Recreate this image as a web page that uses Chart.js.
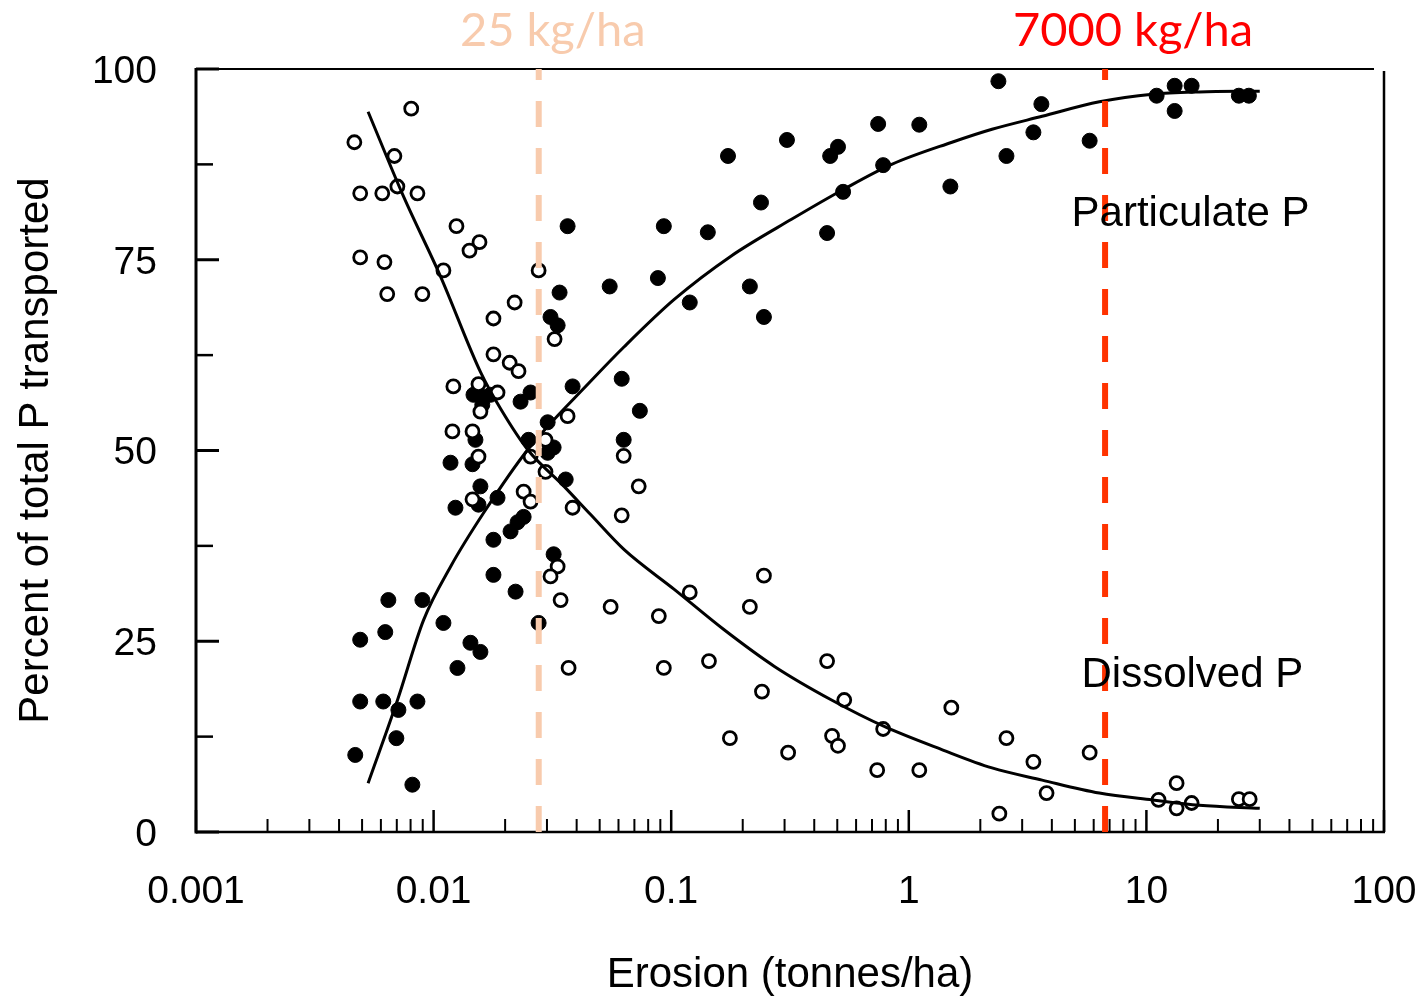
<!DOCTYPE html>
<html>
<head>
<meta charset="utf-8">
<script src="https://cdn.jsdelivr.net/npm/chart.js@4/dist/chart.umd.min.js"></script>
<style>
html,body{margin:0;padding:0;background:#fff;}
#wrap{width:1420px;height:1001px;position:relative;}
</style>
</head>
<body>
<div id="wrap"><canvas id="c" width="1420" height="1001"></canvas></div>
<script>
// ---- Axis ticks ----
const xTickValues = [0.001, 0.01, 0.1, 1, 10, 100];
const xTickLabels = ['0.001', '0.01', '0.1', '1', '10', '100'];
const yTickValues = [0, 25, 50, 75, 100];
const yMinorTickValues = [12.5, 37.5, 62.5, 87.5];

// ---- Dissolved P (open circles) ----
const dissolvedX = [0.00805, 0.00464, 0.00684, 0.00704, 0.00491, 0.00608, 0.00855, 0.01248, 0.0156, 0.01416,
  0.011, 0.02767, 0.00491, 0.00621, 0.00638, 0.00897, 0.02193, 0.01786, 0.0323, 0.01786,
  0.0209, 0.02277, 0.01211, 0.01545, 0.01858, 0.012, 0.01458, 0.01545, 0.01574, 0.02559,
  0.02958, 0.03664, 0.02958, 0.01458, 0.02393, 0.02559, 0.03846, 0.03327, 0.03105, 0.03424,
  0.037, 0.0631, 0.073, 0.0619, 0.2456, 0.1197, 0.0556, 0.0887, 0.2143, 0.0931,
  0.1442, 0.241, 0.453, 0.535, 0.1766, 0.3105, 0.4753, 0.5035, 0.78, 0.736,
  1.107, 1.51, 2.576, 3.345, 2.405, 3.8, 5.77, 13.4, 11.25, 13.4,
  15.5, 24.5, 27.2];
const dissolvedY = [94.8, 90.4, 88.6, 84.6, 83.7, 83.7, 83.7, 79.4, 77.3, 76.2,
  73.6, 73.6, 75.3, 74.7, 70.5, 70.5, 69.4, 67.3, 64.6, 62.6,
  61.5, 60.4, 58.4, 58.7, 57.6, 52.5, 52.5, 49.2, 55.1, 49.2,
  51.4, 54.5, 47.2, 43.6, 44.6, 43.3, 42.5, 34.8, 33.5, 30.4,
  21.5, 49.3, 45.3, 41.5, 33.6, 31.4, 29.5, 28.3, 29.5, 21.5,
  22.4, 18.4, 22.4, 17.3, 12.3, 10.4, 12.6, 11.3, 13.5, 8.1,
  8.1, 16.3, 12.3, 9.2, 2.4, 5.1, 10.4, 6.4, 4.2, 3.1,
  3.8, 4.3, 4.3];

// ---- Particulate P (filled circles) ----
const particulateX = [0.03664, 0.0339, 0.03105, 0.03327, 0.01472, 0.01622, 0.01735, 0.01603, 0.02323, 0.02559,
  0.03846, 0.0302, 0.0251, 0.032, 0.0302, 0.015, 0.01178, 0.01458, 0.03597, 0.01574,
  0.01858, 0.01236, 0.01545, 0.01786, 0.02108, 0.02256, 0.02393, 0.032, 0.01786, 0.02213,
  0.02767, 0.00645, 0.00897, 0.011, 0.00626, 0.00491, 0.01429, 0.01574, 0.0126, 0.00491,
  0.00614, 0.00711, 0.00855, 0.00697, 0.00468, 0.00814, 2.383, 3.614, 3.345, 2.576,
  0.743, 1.107, 0.307, 0.1734, 0.5035, 0.4667, 0.78, 1.496, 0.2387, 0.529,
  0.0931, 0.1426, 0.453, 0.0551, 0.0879, 0.2143, 0.1197, 0.2456, 0.0619, 0.0738,
  0.0631, 5.77, 11.04, 13.15, 15.5, 13.15, 24.5, 27.0];
const particulateY = [79.4, 70.7, 67.5, 66.4, 57.3, 57.0, 57.3, 56.0, 56.4, 57.6,
  58.4, 53.7, 51.4, 50.4, 49.7, 51.4, 48.4, 48.2, 46.2, 45.3,
  43.8, 42.5, 42.9, 38.3, 39.4, 40.6, 41.3, 36.4, 33.7, 31.5,
  27.4, 30.4, 30.4, 27.4, 26.2, 25.2, 24.8, 23.6, 21.5, 17.1,
  17.1, 16.0, 17.1, 12.3, 10.1, 6.2, 98.4, 95.4, 91.7, 88.6,
  92.8, 92.7, 90.7, 88.6, 89.8, 88.6, 87.4, 84.6, 82.5, 83.9,
  79.4, 78.6, 78.5, 71.5, 72.6, 71.5, 69.4, 67.5, 59.4, 55.2,
  51.4, 90.6, 96.5, 97.8, 97.8, 94.5, 96.5, 96.5];

// ---- Fitted curves ----
const particulateCurveX = [0.0053, 0.00705, 0.00908, 0.0118, 0.0163, 0.0249, 0.0459, 0.0634, 0.103, 0.179,
  0.321, 0.537, 0.847, 1.52, 2.24, 3.64, 6.34, 10.6, 16.7, 30.0];
const particulateCurveY = [6.4, 17.3, 27.8, 34.8, 41.9, 50.1, 59.1, 63.6, 69.8, 75.5,
  80.3, 84.3, 87.5, 90.4, 92.1, 93.8, 95.7, 96.7, 97.0, 97.1];
const dissolvedCurveX = [0.0053, 0.00747, 0.0107, 0.0158, 0.0192, 0.0249, 0.0354, 0.0458, 0.0634, 0.103,
  0.167, 0.272, 0.473, 0.792, 1.377, 2.24, 3.64, 6.34, 10.6, 16.7, 30.0];
const dissolvedCurveY = [94.4, 83.3, 72.8, 60.2, 55.4, 50.1, 45.3, 41.6, 37.0, 31.8,
  26.5, 21.7, 17.3, 13.8, 10.8, 8.4, 6.8, 5.1, 4.2, 3.5, 3.1];

// ---- Reference lines ----
const refLineValues = [0.0277, 6.7];          // tonnes/ha
const refLineLabels = ['25 kg/ha', '7000 kg/ha'];
const refLineColors = ['#f8cbad', '#ff3300'];
const refLabelColors = ['#f8cbad', '#ff0000'];

// ---- Series labels ----
const seriesLabels = ['Particulate P', 'Dissolved P'];
const seriesLabelAnchors = [[4.84, 81], [5.33, 20.5]];

const zip = (xs, ys) => xs.map((x, i) => ({x: x, y: ys[i]}));

const framePlugin = {
  id: 'frame',
  beforeDatasetsDraw(chart) {
    const ctx = chart.ctx, ca = chart.chartArea;
    const xs = chart.scales.x, ys = chart.scales.y;
    const ln = (x1, y1, x2, y2, w) => { ctx.lineWidth = w; ctx.beginPath(); ctx.moveTo(x1, y1); ctx.lineTo(x2, y2); ctx.stroke(); };
    ctx.save();
    ctx.strokeStyle = '#000';
    ln(ca.left, ca.top - 1, ca.left, ca.bottom + 1.5, 3);
    ln(ca.left, ca.bottom, ca.right + 1, ca.bottom, 2.5);
    ln(ca.left, ca.top, ca.right - 10, ca.top, 2);
    ln(ca.right, ca.top + 2, ca.right, ca.bottom, 2.5);
    yTickValues.forEach(v => { const y = ys.getPixelForValue(v); ln(ca.left, y, ca.left + 23, y, 3); });
    yMinorTickValues.forEach(v => { const y = ys.getPixelForValue(v); ln(ca.left, y, ca.left + 17, y, 2.5); });
    xTickValues.forEach(v => { const x = xs.getPixelForValue(v); ln(x, ca.bottom, x, ca.bottom - 22, 2.5); });
    for (let i = 0; i < xTickValues.length - 1; i++) {
      for (let m = 2; m <= 9; m++) {
        const x = xs.getPixelForValue(xTickValues[i] * m);
        ln(x, ca.bottom, x, ca.bottom - 13, 2);
      }
    }
    ctx.restore();
  },
  afterDraw(chart) {
    const ctx = chart.ctx;
    const xs = chart.scales.x, ys = chart.scales.y;
    ctx.save();
    // series labels
    ctx.fillStyle = '#000';
    ctx.font = '42px "Liberation Sans", Arial, sans-serif';
    ctx.textAlign = 'left';
    ctx.textBaseline = 'middle';
    seriesLabels.forEach((t, i) => {
      ctx.fillText(t, xs.getPixelForValue(seriesLabelAnchors[i][0]), ys.getPixelForValue(seriesLabelAnchors[i][1]));
    });
    // reference labels
    ctx.font = '47px Lato, "Open Sans", sans-serif';
    ctx.textAlign = 'center';
    ctx.textBaseline = 'alphabetic';
    const offs = [14, 28];
    refLineLabels.forEach((t, i) => {
      ctx.fillStyle = refLabelColors[i];
      ctx.fillText(t, xs.getPixelForValue(refLineValues[i]) + offs[i], 46);
    });
    ctx.restore();
  }
};

const datasets = [];
refLineValues.forEach((v, i) => {
  datasets.push({
    type: 'line', data: [{x: v, y: 0}, {x: v, y: 100}],
    borderColor: refLineColors[i], borderWidth: 6, borderDash: [26, 21],
    pointRadius: 0, fill: false, order: 0, clip: false
  });
});
datasets.push({
  type: 'line', data: zip(particulateCurveX, particulateCurveY),
  borderColor: '#000', borderWidth: 3, pointRadius: 0, fill: false,
  cubicInterpolationMode: 'monotone', order: 1
});
datasets.push({
  type: 'line', data: zip(dissolvedCurveX, dissolvedCurveY),
  borderColor: '#000', borderWidth: 3, pointRadius: 0, fill: false,
  cubicInterpolationMode: 'monotone', order: 1
});
datasets.push({
  label: 'Dissolved P', data: zip(dissolvedX, dissolvedY),
  pointRadius: 6.5, pointBorderWidth: 2.8, pointBackgroundColor: '#fff', pointBorderColor: '#000',
  showLine: false, order: 2
});
datasets.push({
  label: 'Particulate P', data: zip(particulateX, particulateY),
  pointRadius: 7.5, pointBorderWidth: 1, pointBackgroundColor: '#000', pointBorderColor: '#000',
  showLine: false, order: 2
});

Chart.defaults.font.family = '"Liberation Sans", Arial, sans-serif';
Chart.defaults.color = '#000';

new Chart(document.getElementById('c'), {
  type: 'scatter',
  data: {datasets: datasets},
  options: {
    responsive: false,
    devicePixelRatio: 1,
    animation: false,
    layout: {padding: {top: 69, right: 36, left: 0, bottom: 0}},
    plugins: {legend: {display: false}, tooltip: {enabled: false}},
    scales: {
      x: {
        type: 'logarithmic', min: 0.001, max: 100,
        grid: {display: false, drawTicks: false},
        border: {display: false},
        afterBuildTicks: s => { s.ticks = xTickValues.map(v => ({value: v})); },
        afterFit: s => { s.height = 169; s.paddingLeft = 0; s.paddingRight = 0; },
        ticks: {
          autoSkip: false, maxRotation: 0, padding: 37,
          font: {size: 39},
          callback: (v, i) => xTickLabels[i]
        },
        title: {display: true, text: 'Erosion (tonnes/ha)', font: {size: 42}, padding: {top: 0, bottom: 0}}
      },
      y: {
        min: 0, max: 100,
        grid: {display: false, drawTicks: false},
        border: {display: false},
        afterBuildTicks: s => { s.ticks = yTickValues.map(v => ({value: v})); },
        afterFit: s => { s.width = 196; s.paddingTop = 0; s.paddingBottom = 0; },
        ticks: {autoSkip: false, padding: 39, labelOffset: 3, font: {size: 39}, callback: v => String(v)},
        title: {display: true, text: 'Percent of total P transported', font: {size: 42}, padding: {top: 11, bottom: 0}}
      }
    }
  },
  plugins: [framePlugin]
});
</script>
</body>
</html>
